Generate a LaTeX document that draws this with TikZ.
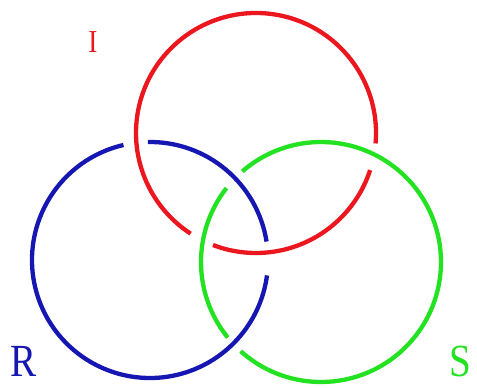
\documentclass[tikz,border=0pt]{standalone}
\usepackage{fontspec}
\setmainfont{Liberation Serif}
\definecolor{ringred}{RGB}{235,22,30}
\definecolor{ringblue}{RGB}{22,22,178}
\definecolor{ringgreen}{RGB}{34,226,34}
\begin{document}
\begin{tikzpicture}[x=1pt,y=1pt,
  ring/.style={line width=4.3pt},
  lbl/.style={inner sep=0pt, anchor=base, xscale=0.85}]
\useasboundingbox (0,0) rectangle (477,388);
\coordinate (cR) at (256,255);
\coordinate (cB) at (150,128);
\coordinate (cG) at (321,126);
% red ring (I)
\draw[ring, ringred] (cR) ++(249:120pt) arc[start angle=249, end angle=342, radius=120pt];
\draw[ring, ringred] (cR) ++(355:120pt) arc[start angle=355, end angle=597, radius=120pt];
% blue ring (R)
\draw[ring, ringblue] (cB) ++(9:118pt) arc[start angle=9, end angle=91, radius=118pt];
\draw[ring, ringblue] (cB) ++(103:118pt) arc[start angle=103, end angle=352.5, radius=118pt];
% green ring (S)
\draw[ring, ringgreen] (cG) ++(142:120pt) arc[start angle=142, end angle=219, radius=120pt];
\draw[ring, ringgreen] (cG) ++(228:120pt) arc[start angle=228, end angle=491, radius=120pt];
% labels
\node[lbl, text=ringred, font=\fontsize{32}{32}\selectfont] (labI) at (93,335) {I};
\node[lbl, text=ringblue, font=\fontsize{46}{46}\selectfont] (labR) at (24,11) {R};
\node[lbl, text=ringgreen, font=\fontsize{46}{46}\selectfont] (labS) at (460,11) {S};
\end{tikzpicture}
\end{document}
